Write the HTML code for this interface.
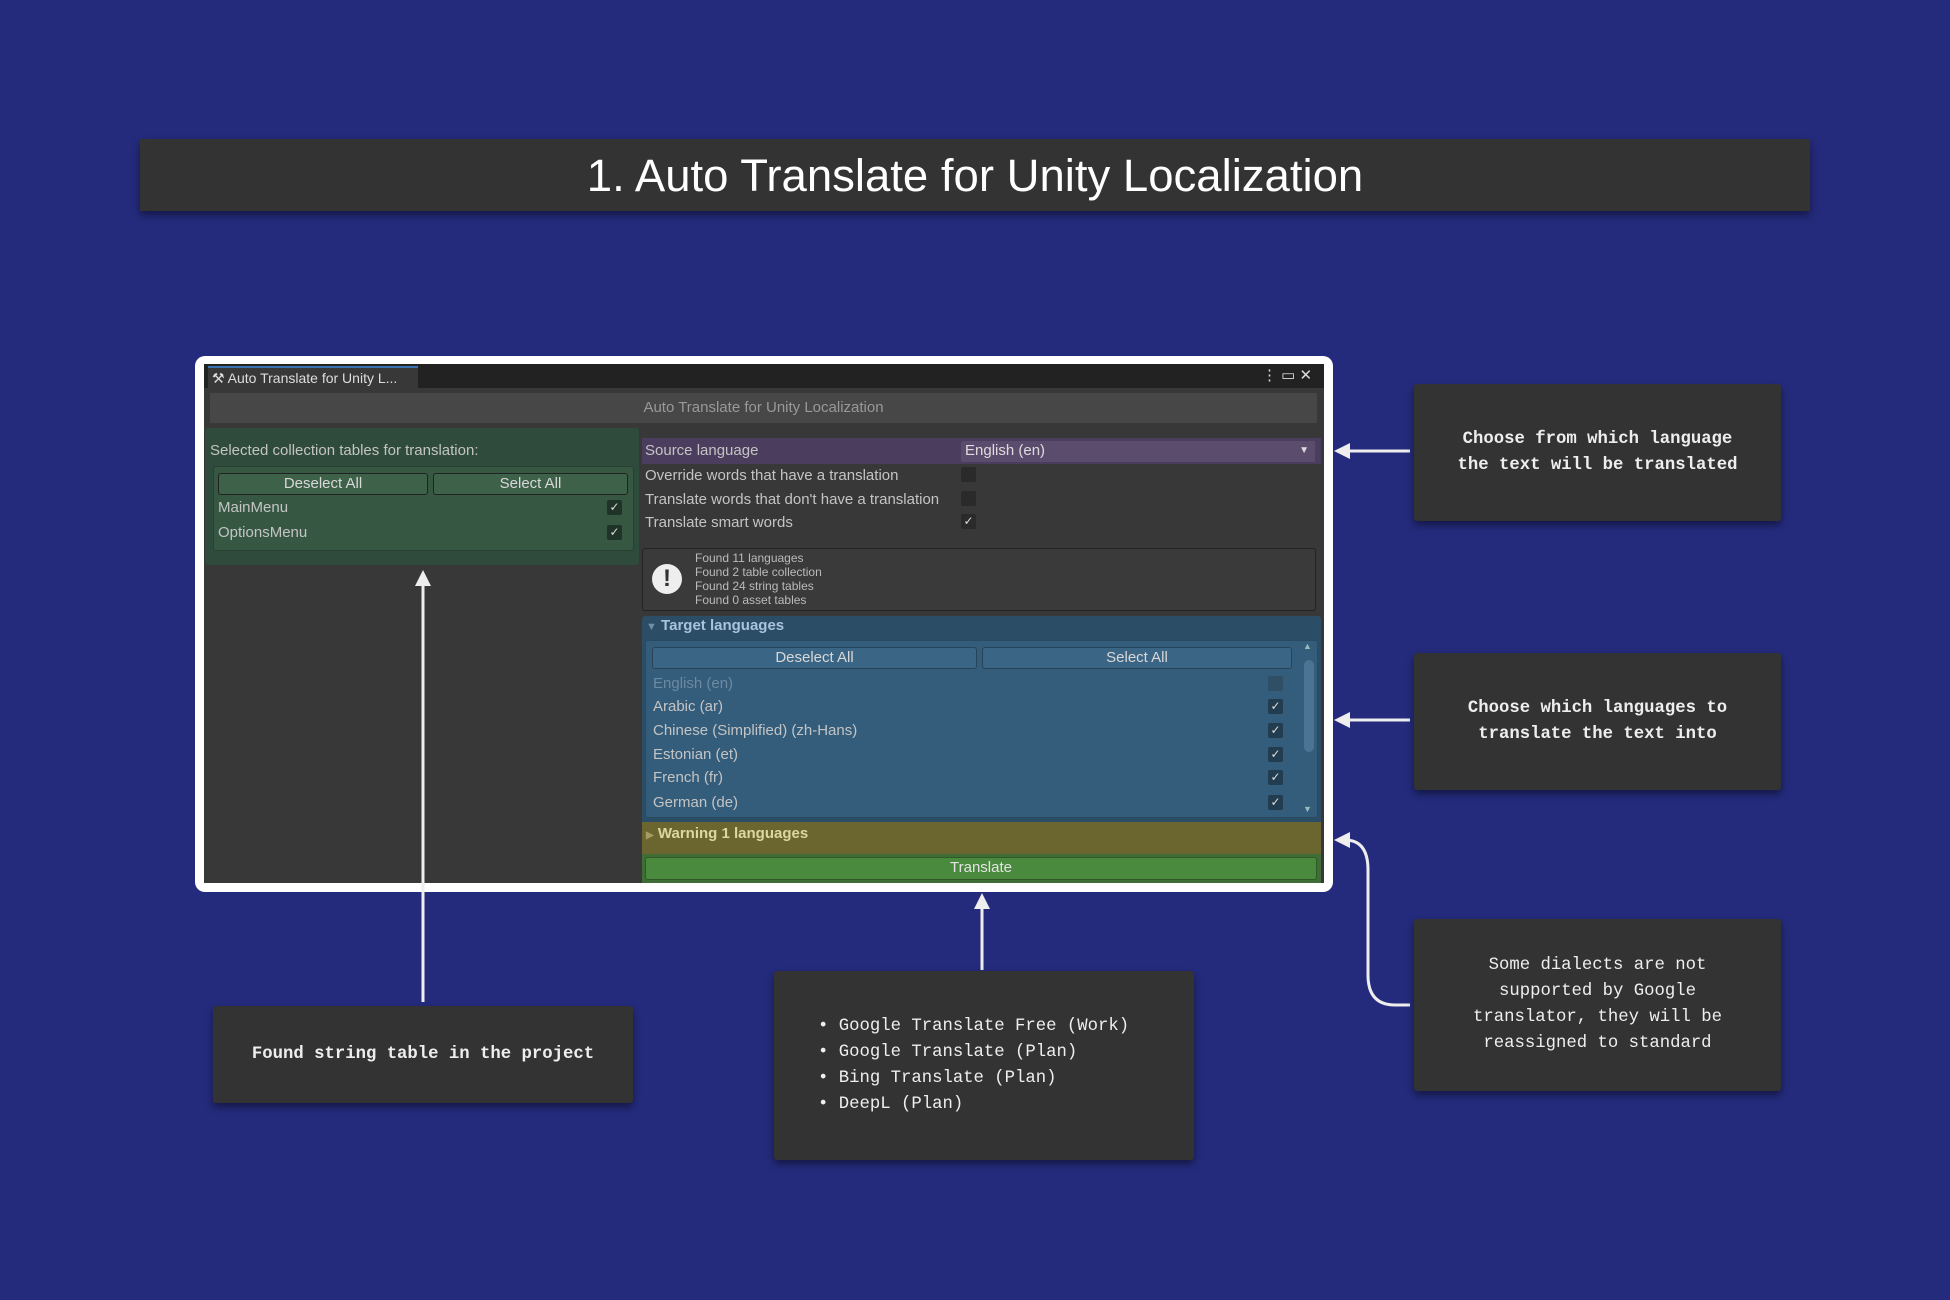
<!DOCTYPE html>
<html><head><meta charset="utf-8"><style>
*{margin:0;padding:0;box-sizing:border-box}
body{width:1950px;height:1300px;background:#242b7c;position:relative;overflow:hidden;font-family:"Liberation Sans",sans-serif}
.a{position:absolute}
.ui{color:#c4c4c4;font-size:15px;white-space:nowrap}
.btn{position:absolute;border:1px solid #222;border-radius:3px;text-align:center;font-size:15px;line-height:20px;color:#d8d8d8}
.cb{position:absolute;width:15px;height:15px;border-radius:2px;background:#2a2a2a;color:#ddd;font-size:12px;line-height:15px;text-align:center}
.call{position:absolute;background:#333;box-shadow:0 4px 8px rgba(0,0,0,.45);border-radius:3px;color:#eee;font-family:"Liberation Mono",monospace;font-size:17.3px;line-height:26px;text-align:center;display:flex;align-items:center;justify-content:center}
</style></head><body>
<div class="a" style="left:140px;top:139px;width:1670px;height:72px;background:#333;box-shadow:0 4px 8px rgba(0,0,0,.45);color:#fff;font-size:45.5px;line-height:74px;text-align:center">1. Auto Translate for Unity Localization</div>

<div class="a" style="left:195px;top:356px;width:1138px;height:536px;background:#fff;border-radius:10px"></div>
<div class="a" style="left:204px;top:364px;width:1120px;height:519px;background:#383838"></div>
<div class="a" style="left:204px;top:364px;width:1120px;height:24px;background:#222"></div>
<div class="a ui" style="left:208px;top:366px;width:210px;height:22px;background:#383838;border-top:2px solid #3a72b0;line-height:20px;padding-left:4px;font-size:14px;color:#ddd">⚒ Auto Translate for Unity L...</div>
<div class="a ui" style="left:1262px;top:366px;color:#ddd;font-size:15px">⋮ ▭ ✕</div>
<div class="a ui" style="left:210px;top:393px;width:1107px;height:30px;background:#474747;line-height:30px;text-align:center;color:#999">Auto Translate for Unity Localization</div>

<div class="a" style="left:205px;top:428px;width:434px;height:137px;background:#2f4b3b;border-radius:3px"></div>
<div class="a ui" style="left:210px;top:442px">Selected collection tables for translation:</div>
<div class="a" style="left:213px;top:466px;width:421px;height:85px;background:#365843;border:1px solid #2a3f31;border-radius:3px"></div>
<div class="btn" style="left:218px;top:473px;width:210px;height:22px;background:#3e6149">Deselect All</div>
<div class="btn" style="left:433px;top:473px;width:195px;height:22px;background:#3e6149">Select All</div>
<div class="a ui" style="left:218px;top:499px">MainMenu</div>
<div class="a ui" style="left:218px;top:524px">OptionsMenu</div>
<div class="cb" style="left:607px;top:500px;background:#1f3328">✓</div>
<div class="cb" style="left:607px;top:525px;background:#1f3328">✓</div>

<div class="a" style="left:642px;top:438px;width:679px;height:26px;background:#4a3d5d"></div>
<div class="a ui" style="left:645px;top:442px">Source language</div>
<div class="a ui" style="left:961px;top:441px;width:354px;height:21px;background:#5b4c6e;border-radius:2px;line-height:20px;padding-left:4px;color:#ddd">English (en)<span style="position:absolute;right:6px;font-size:10px">▼</span></div>
<div class="a ui" style="left:645px;top:467px">Override words that have a translation</div>
<div class="a ui" style="left:645px;top:491px">Translate words that don't have a translation</div>
<div class="a ui" style="left:645px;top:514px">Translate smart words</div>
<div class="cb" style="left:961px;top:467px"></div>
<div class="cb" style="left:961px;top:491px"></div>
<div class="cb" style="left:961px;top:514px">✓</div>

<div class="a" style="left:642px;top:548px;width:674px;height:63px;border:1px solid #232323;border-radius:3px;background:#3a3a3a"></div>
<div class="a" style="left:652px;top:564px;width:30px;height:30px;border-radius:50%;background:#eee;color:#333;font-weight:bold;font-size:24px;line-height:30px;text-align:center">!</div>
<div class="a ui" style="left:695px;top:551px;font-size:12px;line-height:14px;color:#bbb">Found 11 languages<br>Found 2 table collection<br>Found 24 string tables<br>Found 0 asset tables</div>

<div class="a" style="left:642px;top:616px;width:679px;height:206px;background:#2c4d66;border-radius:3px 3px 0 0"></div>
<div class="a ui" style="left:646px;top:617px;font-weight:bold;color:#a8c4dc"><span style="font-size:11px;color:#6f8ea8">▼</span> Target languages</div>
<div class="a" style="left:645px;top:640px;width:673px;height:178px;background:#345d7b;border:1px solid #2a4a62;border-radius:3px"></div>
<div class="btn" style="left:652px;top:647px;width:325px;height:22px;background:#3b6585;border-color:#264359">Deselect All</div>
<div class="btn" style="left:982px;top:647px;width:310px;height:22px;background:#3b6585;border-color:#264359">Select All</div>
<div class="a ui" style="left:653px;top:675px;color:#6d8aa2">English (en)</div>
<div class="a ui" style="left:653px;top:698px">Arabic (ar)</div>
<div class="a ui" style="left:653px;top:722px">Chinese (Simplified) (zh-Hans)</div>
<div class="a ui" style="left:653px;top:746px">Estonian (et)</div>
<div class="a ui" style="left:653px;top:769px">French (fr)</div>
<div class="a ui" style="left:653px;top:794px">German (de)</div>
<div class="cb" style="left:1268px;top:676px;background:#2e4f66"></div>
<div class="cb" style="left:1268px;top:699px;background:#223c50">✓</div>
<div class="cb" style="left:1268px;top:723px;background:#223c50">✓</div>
<div class="cb" style="left:1268px;top:747px;background:#223c50">✓</div>
<div class="cb" style="left:1268px;top:770px;background:#223c50">✓</div>
<div class="cb" style="left:1268px;top:795px;background:#223c50">✓</div>
<div class="a" style="left:1304px;top:660px;width:10px;height:92px;background:#4b7494;border-radius:5px"></div>
<div class="a" style="left:1303px;top:641px;font-size:9px;color:#9bb">▲</div>
<div class="a" style="left:1303px;top:804px;font-size:9px;color:#9bb">▼</div>

<div class="a" style="left:642px;top:822px;width:679px;height:32px;background:#6b6630"></div>
<div class="a ui" style="left:646px;top:825px;font-weight:bold;color:#ddd6a0"><span style="font-size:10px;color:#a49c60">▶</span> Warning 1 languages</div>
<div class="a" style="left:642px;top:854px;width:679px;height:29px;background:#3e6e35"></div>
<div class="btn" style="left:645px;top:857px;width:672px;height:23px;background:#4a8a3e;border-color:#2f5a27;color:#e4e4e4">Translate</div>

<svg class="a" style="left:0;top:0" width="1950" height="1300">
<g stroke="#eee" stroke-width="3" fill="none">
<line x1="423" y1="582" x2="423" y2="1002"/>
<line x1="982" y1="905" x2="982" y2="970"/>
<line x1="1348" y1="451" x2="1410" y2="451"/>
<line x1="1348" y1="720" x2="1410" y2="720"/>
<path d="M1410 1005 H1395 Q1368 1005 1368 975 V870 Q1368 840 1345 840"/>
</g>
<g fill="#eee">
<polygon points="423,570 415,586 431,586"/>
<polygon points="982,893 974,909 990,909"/>
<polygon points="1334,451 1350,443 1350,459"/>
<polygon points="1334,720 1350,712 1350,728"/>
<polygon points="1334,840 1350,832 1350,848"/>
</g>
</svg>

<div class="call" style="left:1414px;top:384px;width:367px;height:137px;font-weight:bold">Choose from which language<br>the text will be translated</div>
<div class="call" style="left:1414px;top:653px;width:367px;height:137px;font-weight:bold">Choose which languages to<br>translate the text into</div>
<div class="call" style="left:1414px;top:919px;width:367px;height:172px">Some dialects are not<br>supported by Google<br>translator, they will be<br>reassigned to standard</div>
<div class="call" style="left:213px;top:1006px;width:420px;height:97px;font-weight:bold">Found string table in the project</div>
<div class="call" style="left:774px;top:971px;width:420px;height:189px;text-align:left;justify-content:flex-start;padding-left:44px">• Google Translate Free (Work)<br>• Google Translate (Plan)<br>• Bing Translate (Plan)<br>• DeepL (Plan)</div>
</body></html>
